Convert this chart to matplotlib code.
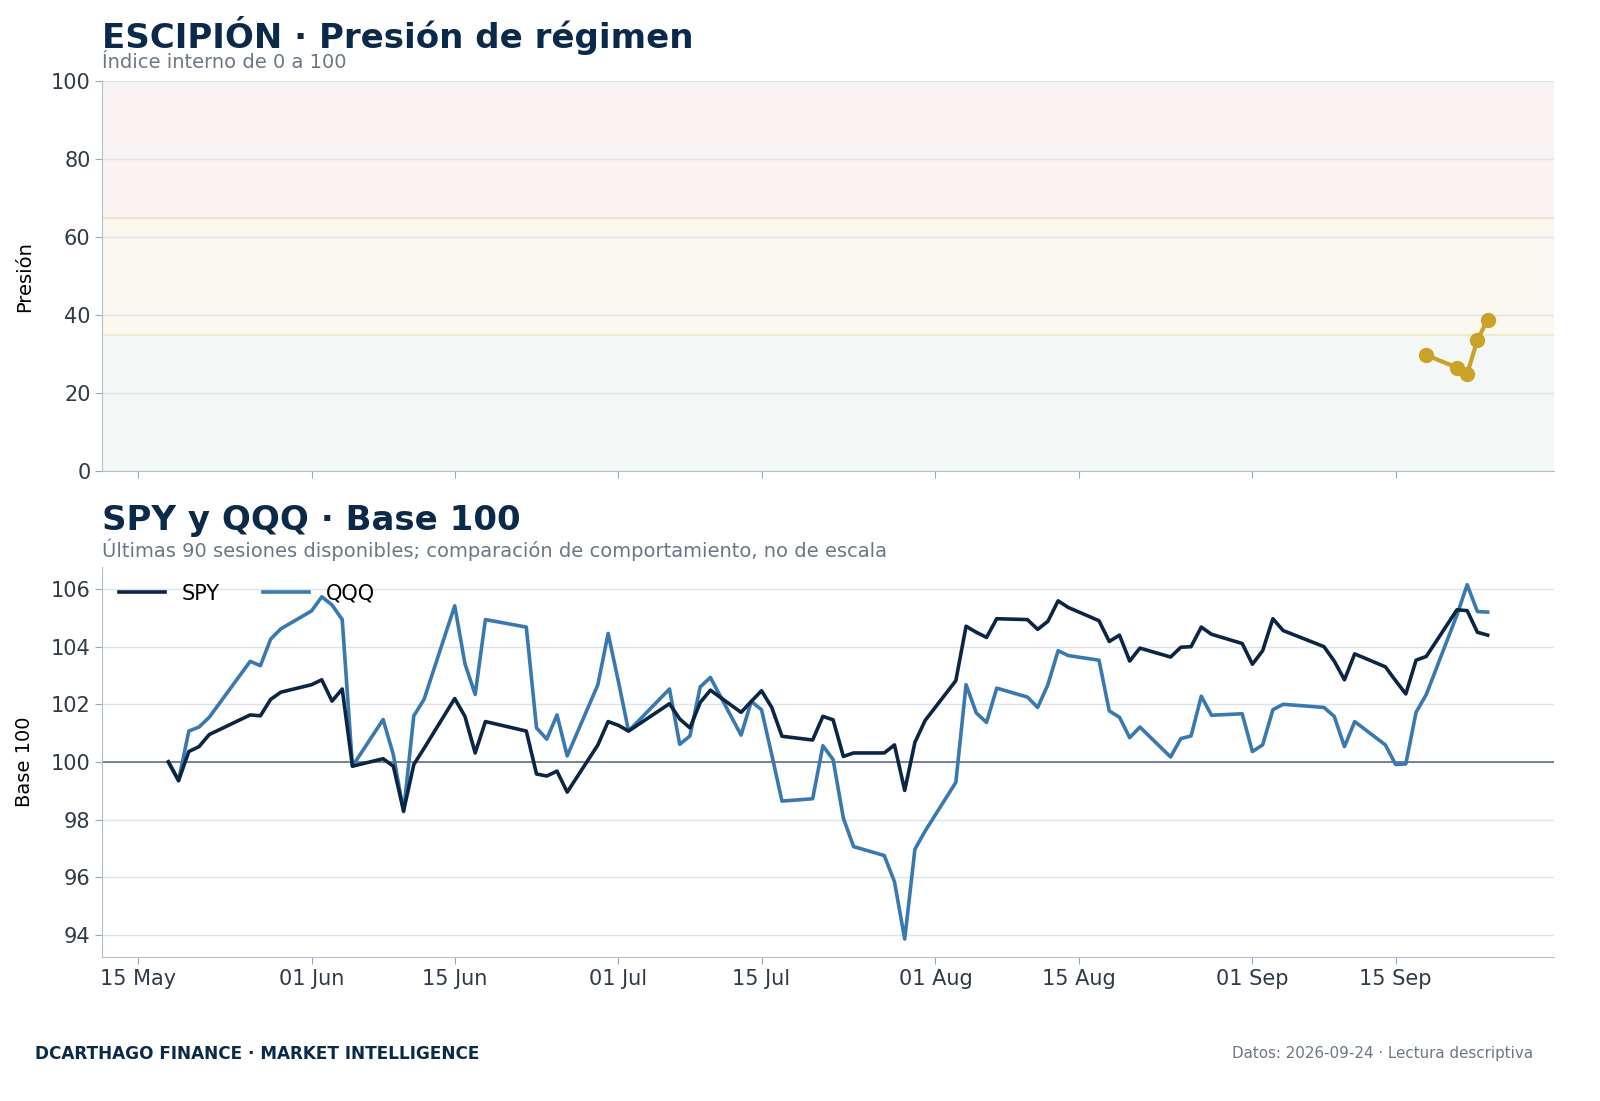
import numpy as np
import matplotlib
matplotlib.use("Agg")
import matplotlib.pyplot as plt
import matplotlib.dates as mdates
import pandas as pd

# sessions: business days May 18 - Sep 24 2026, US market holidays removed
holidays = ["2026-05-25", "2026-06-19", "2026-07-03", "2026-09-07"]
dates = pd.bdate_range("2026-05-18", "2026-09-24")
dates = dates[~dates.isin(pd.to_datetime(holidays))]

spy = [100.00, 99.35, 100.36, 100.53, 100.95, 101.63, 101.60, 102.17, 102.42,
       102.68, 102.85, 102.11, 102.53, 99.85, 100.11, 99.85, 98.30, 99.91, 100.47,
       102.20, 101.58, 100.31, 101.40, 101.07, 99.58, 99.51, 99.68, 98.95, 100.59,
       101.40, 101.27, 101.07, 102.02, 101.49, 101.18, 102.06, 102.49, 101.72, 102.10,
       102.47, 101.89, 100.89, 100.76, 101.58, 101.46, 100.19, 100.31, 100.31, 100.59,
       99.01, 100.68, 101.44, 102.82, 104.71, 104.50, 104.32, 104.97, 104.94, 104.60,
       104.88, 105.59, 105.36, 104.90, 104.18, 104.40, 103.50, 103.95, 103.64, 103.98,
       104.00, 104.68, 104.43, 104.11, 103.39, 103.86, 104.97, 104.56, 104.00, 103.50,
       102.85, 103.75, 103.30, 102.82, 102.36, 103.53, 103.66, 105.28, 105.25, 104.50,
       104.40]

qqq = [100.00, 99.35, 101.07, 101.21, 101.55, 103.49, 103.34, 104.26, 104.62,
       105.24, 105.73, 105.45, 104.94, 99.85, 101.47, 100.25, 98.27, 101.60, 102.17,
       105.42, 103.41, 102.34, 104.94, 104.68, 101.18, 100.79, 101.63, 100.21, 102.68,
       104.46, 102.80, 101.07, 102.53, 100.61, 100.90, 102.60, 102.93, 100.93, 102.10,
       101.81, 100.25, 98.64, 98.72, 100.56, 100.08, 98.05, 97.06, 96.75, 95.84,
       93.85, 96.97, 97.60, 99.29, 102.68, 101.70, 101.37, 102.56, 102.25, 101.89,
       102.68, 103.86, 103.69, 103.53, 101.77, 101.55, 100.84, 101.21, 100.17, 100.81,
       100.90, 102.28, 101.62, 101.67, 100.36, 100.59, 101.81, 102.00, 101.89, 101.58,
       100.53, 101.40, 100.59, 99.91, 99.93, 101.72, 102.34, 105.10, 106.15, 105.22,
       105.20]

pres_dates = pd.to_datetime(["2026-09-18", "2026-09-21", "2026-09-22", "2026-09-23", "2026-09-24"])
pres_vals = [29.8, 26.6, 25.0, 33.7, 38.9]

NAVY = "#0b2a4a"
GRAY = "#6b7785"
SPINE = "#b3bfcc"
GRID = "#dde3ea"

fig = plt.figure(figsize=(16, 11.01), dpi=100)
ax1 = fig.add_axes([0.064, 0.572, 0.907, 0.354])
ax2 = fig.add_axes([0.064, 0.131, 0.907, 0.354], sharex=ax1)

# --- top: pressure index
ax1.axhspan(0, 35, color="#f3f7f6", zorder=0)
ax1.axhspan(35, 65, color="#faf8ef", zorder=0)
ax1.axhspan(65, 100, color="#f9f3f3", zorder=0)
ax1.axhline(35, color="#f0e6cc", lw=1.2, zorder=1)
ax1.axhline(65, color="#f3dccb", lw=1.2, zorder=1)
ax1.plot(pres_dates, pres_vals, color="#c9a227", lw=3, marker="o", ms=10, zorder=3)
ax1.set_ylim(0, 100)
ax1.set_yticks(range(0, 101, 20))
ax1.set_ylabel("Presión", fontsize=14, labelpad=12)
ax1.tick_params(labelbottom=False)

# --- bottom: base 100
ax2.axhline(100, color="#6b7a8c", lw=1.3, zorder=1)
ax2.plot(dates, spy, color="#0b2545", lw=2.6, label="SPY", zorder=3)
ax2.plot(dates, qqq, color="#3a78b0", lw=2.6, label="QQQ", zorder=2)
ax2.set_yticks(range(94, 107, 2))
ax2.set_ylabel("Base 100", fontsize=14, labelpad=12)
leg = ax2.legend(loc="upper left", ncol=2, frameon=False, fontsize=15,
                 handlelength=2.2, columnspacing=2.1, borderaxespad=0.4)

ax2.xaxis.set_major_locator(mdates.DayLocator(bymonthday=[1, 15]))
ax2.xaxis.set_major_formatter(mdates.DateFormatter("%d %b"))

for ax in (ax1, ax2):
    ax.grid(axis="y", color=GRID, lw=1)
    ax.set_axisbelow(True)
    for s in ("top", "right"):
        ax.spines[s].set_visible(False)
    for s in ("left", "bottom"):
        ax.spines[s].set_color(SPINE)
    ax.tick_params(colors="#9aa6b4", labelcolor="#2f3b48", labelsize=15, length=5)

# titles
fig.text(0.064, 0.968, "ESCIPIÓN · Presión de régimen", fontsize=24.5, fontweight="bold",
         color=NAVY, va="center")
fig.text(0.064, 0.943, "Índice interno de 0 a 100", fontsize=14, color=GRAY, va="center")
fig.text(0.064, 0.527, "SPY y QQQ · Base 100", fontsize=24.5, fontweight="bold",
         color=NAVY, va="center")
fig.text(0.064, 0.5005, "Últimas 90 sesiones disponibles; comparación de comportamiento, no de escala",
         fontsize=14, color=GRAY, va="center")

# footer
fig.text(0.022, 0.043, "DCARTHAGO FINANCE · MARKET INTELLIGENCE", fontsize=12.2,
         fontweight="bold", color=NAVY, va="center")
fig.text(0.958, 0.043, "Datos: 2026-09-24 · Lectura descriptiva", fontsize=10.9,
         color=GRAY, va="center", ha="right")

fig.savefig("out.png", dpi=100)
